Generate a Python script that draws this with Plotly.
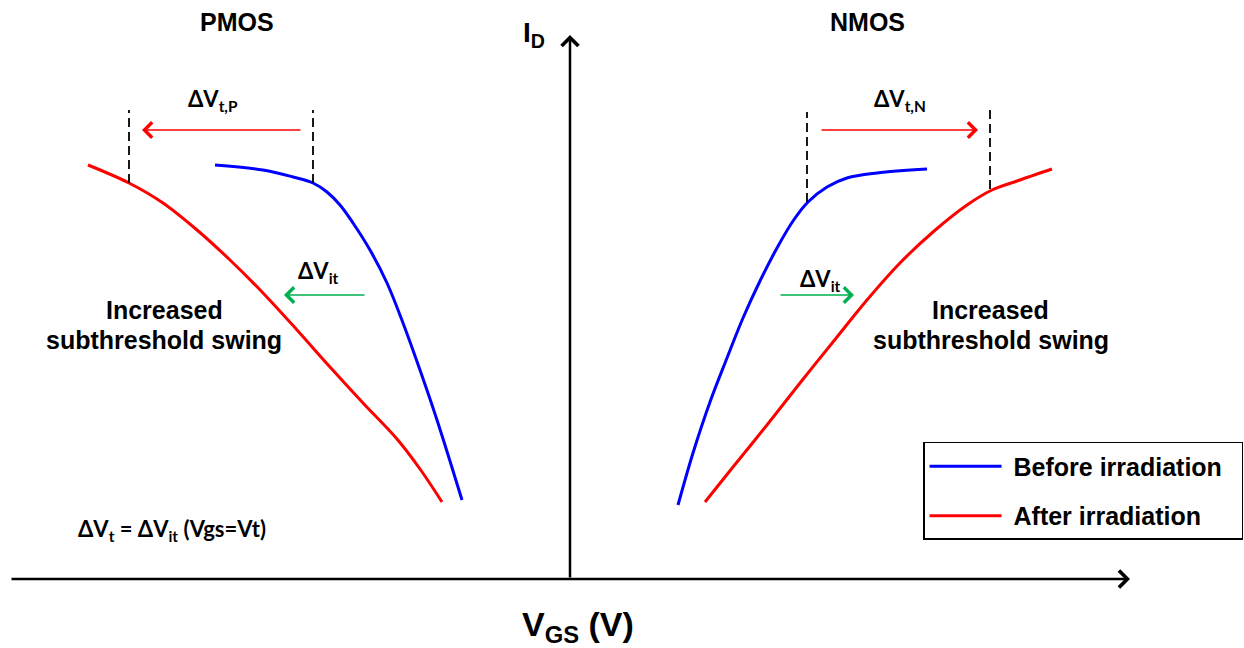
import plotly.graph_objects as go

# ---- data (VGS in arbitrary units, ID in arbitrary units) ----
pmos_before_vgs = [-3.55, -3.07, -2.77, -2.57, -2.43, -2.30, -2.17, -2.00, -1.83, -1.67, -1.50, -1.33, -1.08]
pmos_before_id = [4.14, 4.09, 4.02, 3.96, 3.87, 3.74, 3.56, 3.29, 2.96, 2.56, 2.09, 1.59, 0.79]
pmos_after_vgs = [-4.82, -4.41, -4.07, -3.73, -3.40, -3.07, -2.73, -2.40, -2.07, -1.73, -1.50, -1.28]
pmos_after_id = [4.14, 3.96, 3.76, 3.49, 3.19, 2.86, 2.49, 2.12, 1.76, 1.40, 1.10, 0.77]
nmos_before_vgs = [1.08, 1.23, 1.40, 1.57, 1.73, 1.90, 2.07, 2.23, 2.38, 2.57, 2.77, 3.07, 3.57]
nmos_before_id = [0.74, 1.26, 1.77, 2.21, 2.61, 2.98, 3.31, 3.58, 3.77, 3.92, 4.01, 4.06, 4.10]
nmos_after_vgs = [1.35, 1.63, 1.97, 2.30, 2.63, 2.97, 3.30, 3.63, 3.97, 4.22, 4.47, 4.82]
nmos_after_id = [0.77, 1.12, 1.54, 1.96, 2.37, 2.79, 3.16, 3.47, 3.74, 3.89, 3.98, 4.10]

# threshold markers: (vgs, id_bottom, id_top)
vt_markers = [(-4.41, 3.96, 4.69), (-2.57, 3.96, 4.69), (2.37, 3.77, 4.67), (4.20, 3.90, 4.71)]
# shift arrows: (from_vgs, to_vgs, id, colour)
shift_arrows = [(-2.68, -4.28, 4.49, "#ff0000"), (2.50, 4.08, 4.49, "#ff0000"),
                (-2.04, -2.86, 2.84, "#00b050"), (2.09, 2.84, 2.84, "#00b050")]

BLUE = "#0000ff"
RED = "#ff0000"
CAL = "Lato, Carlito, 'Liberation Sans', sans-serif"
ARIAL = "'Liberation Sans', Arial, sans-serif"

fig = go.Figure()
fig.add_trace(go.Scatter(x=pmos_before_vgs, y=pmos_before_id, mode="lines", line=dict(color=BLUE, width=3, shape="spline"),
                         name="&nbsp;<b>Before irradiation</b>&nbsp;&nbsp;", legendgroup="b"))
fig.add_trace(go.Scatter(x=pmos_after_vgs, y=pmos_after_id, mode="lines", line=dict(color=RED, width=3, shape="spline"),
                         name="&nbsp;<b>After irradiation</b>", legendgroup="a"))
fig.add_trace(go.Scatter(x=nmos_before_vgs, y=nmos_before_id, mode="lines", line=dict(color=BLUE, width=3, shape="spline"),
                         showlegend=False, legendgroup="b"))
fig.add_trace(go.Scatter(x=nmos_after_vgs, y=nmos_after_id, mode="lines", line=dict(color=RED, width=3, shape="spline"),
                         showlegend=False, legendgroup="a"))

for v, y0, y1 in vt_markers:
    fig.add_trace(go.Scatter(x=[v, v], y=[y0, y1], mode="lines", line=dict(color="black", width=1.8, dash="9px,5px"),
                             showlegend=False, hoverinfo="skip"))

for x0, x1, y, c in shift_arrows:
    fig.add_annotation(x=x1, y=y, ax=x0, ay=y, xref="x", yref="y", axref="x", ayref="y", text="",
                       showarrow=True, arrowhead=4, arrowsize=2.0, arrowwidth=1.5, arrowcolor=c)

# axes arrows
fig.add_annotation(x=5.60, y=0, ax=-5.60, ay=0, xref="x", yref="y", axref="x", ayref="y", text="",
                   showarrow=True, arrowhead=4, arrowsize=1.3, arrowwidth=2.5, arrowcolor="black")
fig.add_annotation(x=0, y=5.44, ax=0, ay=0, xref="x", yref="y", axref="x", ayref="y", text="",
                   showarrow=True, arrowhead=4, arrowsize=1.3, arrowwidth=2.5, arrowcolor="black")

def txt(x, y, t, size, font=ARIAL):
    fig.add_annotation(x=x, y=y, xref="x", yref="y", text=t, showarrow=False,
                       font=dict(family=font, size=size, color="black"))

txt(-3.33, 5.57, "<b>PMOS</b>", 25)
txt(2.97, 5.57, "<b>NMOS</b>", 25)
txt(-0.36, 5.45, "<b>I<sub>D</sub></b>", 28)
txt(0.08, -0.47, "<b>V<sub>GS</sub> (V)</b>", 34)
txt(-3.57, 4.79, "<b>ΔV<sub>t,P</sub></b>", 22, CAL)
txt(3.30, 4.79, "<b>ΔV<sub>t,N</sub></b>", 22, CAL)
txt(-2.52, 3.07, "<b>ΔV<sub>it</sub></b>", 22, CAL)
txt(2.50, 2.99, "<b>ΔV<sub>it</sub></b>", 22, CAL)
txt(-4.06, 2.69, "<b>Increased</b>", 25)
txt(-4.06, 2.39, "<b>subthreshold swing</b>", 25)
txt(4.20, 2.69, "<b>Increased</b>", 25)
txt(4.21, 2.39, "<b>subthreshold swing</b>", 25)
txt(-3.98, 0.49, "<b>ΔV<sub>t</sub> = ΔV<sub>it</sub> (Vgs=Vt)</b>", 22, CAL)

fig.update_layout(
    width=1244, height=648, margin=dict(l=0, r=0, t=0, b=0),
    plot_bgcolor="white", paper_bgcolor="white",
    xaxis=dict(range=[-5.70, 6.74], visible=False),
    yaxis=dict(range=[-0.69, 5.79], visible=False),
    legend=dict(x=0.742, y=0.318, xanchor="left", yanchor="top", bordercolor="black", borderwidth=1.5,
                font=dict(family=ARIAL, size=25, color="black"), tracegroupgap=14, itemwidth=72,
                bgcolor="white"),
)

fig.write_html("out.html", config={"displayModeBar": False},
               post_script="document.body.style.margin='0px';")
